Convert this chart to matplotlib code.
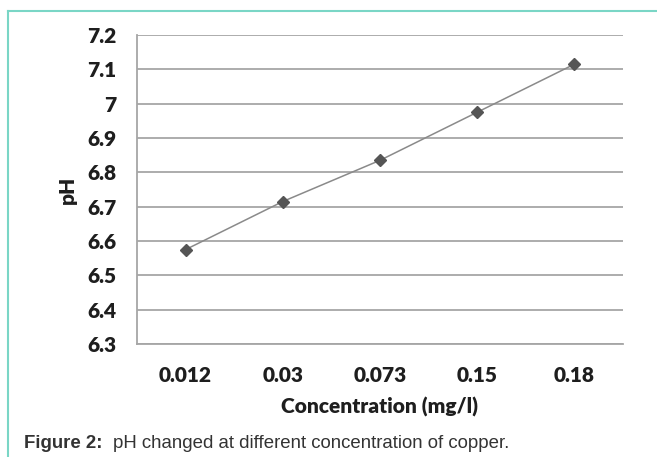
import matplotlib
matplotlib.use('Agg')
import matplotlib.pyplot as plt
from matplotlib.lines import Line2D

categories = ['0.012', '0.03', '0.073', '0.15', '0.18']
ph_values = [6.575, 6.715, 6.835, 6.975, 7.115]
y_ticks = [6.3, 6.4, 6.5, 6.6, 6.7, 6.8, 6.9, 7.0, 7.1, 7.2]
y_tick_labels = ['6.3', '6.4', '6.5', '6.6', '6.7', '6.8', '6.9', '7', '7.1', '7.2']

W, H = 657, 457
fig = plt.figure(figsize=(W / 100, H / 100), dpi=100)
ax = fig.add_axes([137 / W, 1 - 344 / H, (623 - 137) / W, (344 - 35) / H])

x = list(range(len(categories)))
ax.plot(x, ph_values, color='#8a8a8a', linewidth=1.1, zorder=3)
ax.plot(x, ph_values, linestyle='none', marker='D', markersize=6.5,
        color='#555555', zorder=4)

ax.set_xlim(-0.5, len(categories) - 0.5)
ax.set_ylim(6.3, 7.2)
ax.set_yticks(y_ticks)
ax.set_yticklabels(y_tick_labels)
ax.set_xticks(x)
ax.set_xticklabels(categories)
ax.yaxis.grid(True, color='#a6a6a6', linewidth=1.3)
ax.set_axisbelow(True)

for side in ['top', 'right']:
    ax.spines[side].set_visible(False)
ax.spines['left'].set_color('#a6a6a6')
ax.spines['bottom'].set_color('#a6a6a6')
ax.spines['left'].set_linewidth(1.3)
ax.spines['bottom'].set_linewidth(1.3)
ax.tick_params(length=0)
ax.tick_params(axis='y', pad=15)
ax.tick_params(axis='x', pad=16)

fs = 15
lab_font = dict(family='Lato', weight='heavy', size=fs, color='#1e1e1e')
for t in ax.get_xticklabels() + ax.get_yticklabels():
    t.set_fontfamily('Lato')
    t.set_fontweight('heavy')
    t.set_fontsize(fs)
    t.set_color('#1e1e1e')

ax.set_ylabel('pH', fontdict=lab_font)
ax.yaxis.set_label_coords((67 - 137) / 486, 0.5)
ax.set_xlabel('Concentration (mg/l)', fontdict=lab_font)
ax.xaxis.set_label_coords(0.5, -(407 - 344) / 309)
ax.xaxis.label.set_va('center')
ax.yaxis.label.set_va('center')

# teal frame around the figure (open at right and bottom)
frame_color = '#7ad6c6'
fig.add_artist(Line2D([8 / W, 1], [1 - 11 / H, 1 - 11 / H], color=frame_color,
                      linewidth=1.5, transform=fig.transFigure))
fig.add_artist(Line2D([8 / W, 8 / W], [0, 1 - 11 / H], color=frame_color,
                      linewidth=1.5, transform=fig.transFigure))

fig.text(24 / W, 1 - 443 / H, 'Figure 2:', family='Liberation Sans',
         weight='bold', size=13.4, color='#333333', va='center')
fig.text(113 / W, 1 - 443 / H, 'pH changed at different concentration of copper.',
         family='Liberation Sans', size=13.4, color='#333333', va='center')

fig.savefig('out.png', dpi=100)
